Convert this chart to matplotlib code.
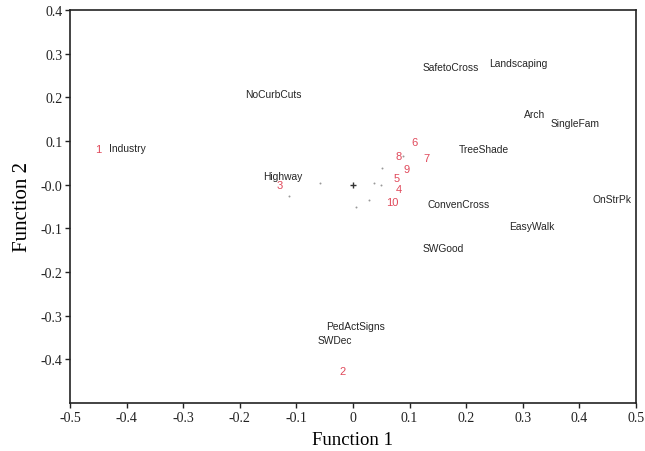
import matplotlib
matplotlib.use("Agg")
import matplotlib.pyplot as plt

# Variable labels (function 1, function 2)
var_names = ["Industry", "NoCurbCuts", "SafetoCross", "Landscaping", "Arch", "SingleFam",
             "TreeShade", "OnStrPk", "ConvenCross", "EasyWalk", "SWGood", "Highway",
             "PedActSigns", "SWDec"]
var_f1 = [-0.399, -0.140, 0.173, 0.292, 0.320, 0.392, 0.231, 0.458, 0.186, 0.316, 0.159,
          -0.124, 0.004, -0.032]
var_f2 = [0.084, 0.208, 0.269, 0.279, 0.162, 0.141, 0.082, -0.033, -0.044, -0.095, -0.145,
          0.020, -0.324, -0.356]

# Group centroids (numbered)
grp_names = ["1", "2", "3", "4", "5", "6", "7", "8", "9", "10"]
grp_f1 = [-0.451, -0.018, -0.129, 0.081, 0.078, 0.108, 0.129, 0.081, 0.095, 0.069]
grp_f2 = [0.082, -0.427, -0.001, -0.010, 0.015, 0.098, 0.061, 0.066, 0.036, -0.040]

# Small case points
pt_f1 = [-0.058, -0.113, 0.037, 0.049, 0.051, 0.028, 0.005, 0.088]
pt_f2 = [0.004, -0.026, 0.004, -0.001, 0.038, -0.035, -0.051, 0.066]

# Overall centroid
cen_f1 = [0.0]
cen_f2 = [-0.001]

xticks = [-0.5, -0.4, -0.3, -0.2, -0.1, 0.0, 0.1, 0.2, 0.3, 0.4, 0.5]
xtick_labels = ["-0.5", "-0.4", "-0.3", "-0.2", "-0.1", "0", "0.1", "0.2", "0.3", "0.4", "0.5"]
yticks = [0.4, 0.3, 0.2, 0.1, 0.0, -0.1, -0.2, -0.3, -0.4]
ytick_labels = ["0.4", "0.3", "0.2", "0.1", "-0.0", "-0.1", "-0.2", "-0.3", "-0.4"]

fig = plt.figure(figsize=(6.45, 4.52), dpi=100)
ax = fig.add_axes([70 / 645, 1 - 404 / 452, 566 / 645, 393 / 452])
ax.set_xlim(-0.5, 0.5)
ax.set_ylim(-0.5, 0.4)

for n, x, y in zip(var_names, var_f1, var_f2):
    ax.text(x, y, n, ha="center", va="center", fontsize=7.4,
            family="Liberation Sans", color="#262626")
for n, x, y in zip(grp_names, grp_f1, grp_f2):
    ax.text(x, y, n, ha="center", va="center", fontsize=8,
            family="Liberation Sans", color="#e0485a")
ax.scatter(pt_f1, pt_f2, s=2, color="#999999", linewidths=0)
ax.scatter(cen_f1, cen_f2, s=16, marker="+", color="#333333", linewidths=1.0)

ax.set_xticks(xticks)
ax.set_xticklabels(xtick_labels)
ax.set_yticks(yticks)
ax.set_yticklabels(ytick_labels)
for lab in ax.get_xticklabels() + ax.get_yticklabels():
    lab.set_family("Liberation Serif")
    lab.set_fontsize(10)
ax.tick_params(direction="out", length=3.5, width=1, pad=2, colors="#222222")
for sp in ax.spines.values():
    sp.set_linewidth(1.2)
    sp.set_color("#222222")

ax.set_xlabel("Function 1", family="Liberation Serif", fontsize=13.5, labelpad=5)
ax.set_ylabel("Function 2", family="Liberation Serif", fontsize=15, labelpad=6)

fig.savefig("out.png", dpi=100)
